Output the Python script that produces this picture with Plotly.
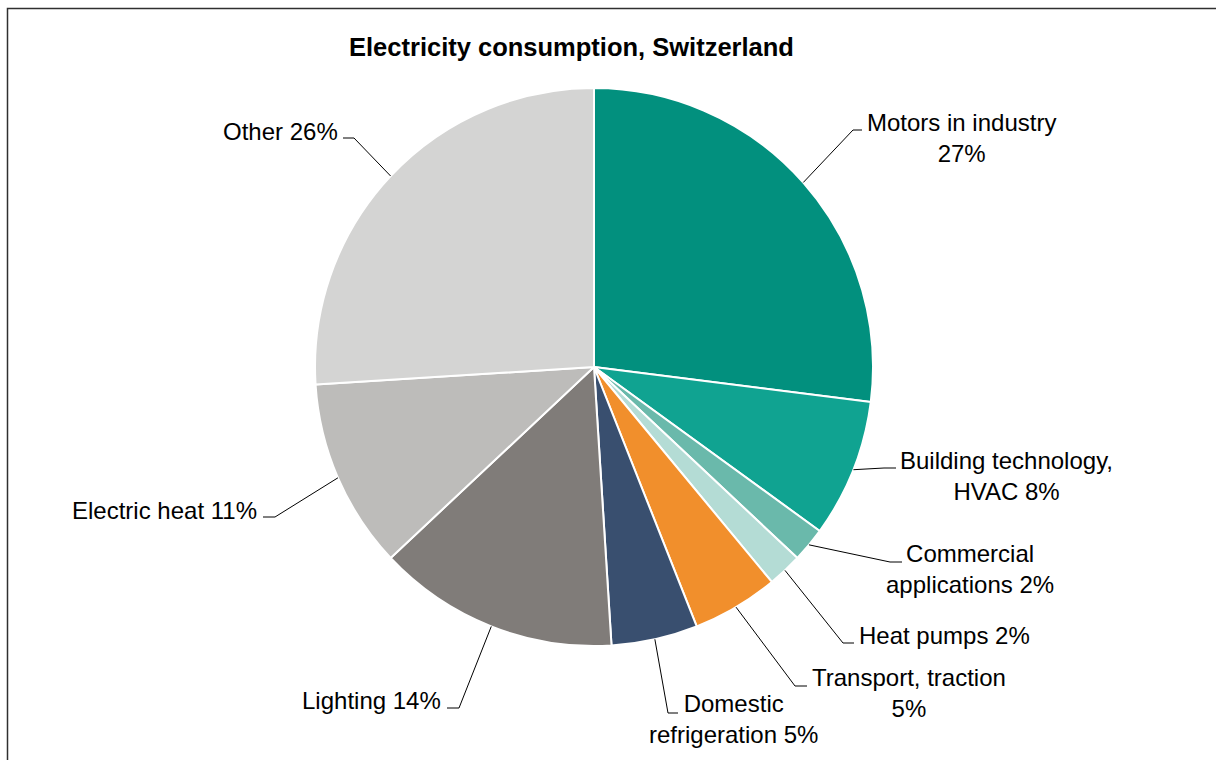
import math
import plotly.graph_objects as go

# ---- data ----
categories = ["Motors in industry", "Building technology, HVAC", "Commercial applications",
              "Heat pumps", "Transport, traction", "Domestic refrigeration",
              "Lighting", "Electric heat", "Other"]
shares = [27, 8, 2, 2, 5, 5, 14, 11, 26]
label_texts = ["Motors in industry<br>27%", "Building technology,<br>HVAC 8%",
               "Commercial<br>applications 2%", "Heat pumps 2%",
               "Transport, traction<br>5%", "Domestic<br>refrigeration 5%",
               "Lighting 14%", "Electric heat 11%", "Other 26%"]
colors = ["#02907E", "#10A391", "#6AB9AB", "#B4DCD5", "#F18F2C",
          "#394F6F", "#807C79", "#BDBCBA", "#D4D4D3"]

# ---- layout (pixels) ----
W, H = 1216, 760
CX, CY, R = 594, 367, 279
# label layout: (elbow x, elbow y, end x, text x, text y, xanchor)
label_layout = [
    (853, 130, 862, 962, 138, "center"),
    (884, 468, 896, 1006, 476, "center"),
    (890, 562, 902, 970, 569, "center"),
    (843, 643, 854, 857, 635, "left"),
    (795, 686, 807, 909, 693, "center"),
    (668, 713, 678, 733, 719, "center"),
    (459, 708, 447, 443, 700, "right"),
    (275, 517, 263, 259, 510, "right"),
    (354, 138, 343, 340, 131, "right"),
]

def px(x):
    return x / W

def py(y):
    return 1 - y / H

fig = go.Figure(go.Pie(
    labels=categories, values=shares, sort=False, direction="clockwise",
    rotation=0, marker=dict(colors=colors, line=dict(color="white", width=2)),
    textinfo="none", hoverinfo="label+percent", showlegend=False,
    domain=dict(x=[px(CX - R), px(CX + R)], y=[py(CY + R), py(CY - R)]),
))

total = sum(shares)
cum = 0
shapes = []
annotations = []
for val, txt, lay in zip(shares, label_texts, label_layout):
    mid = (cum + val / 2) / total * 2 * math.pi
    cum += val
    sx = CX + R * math.sin(mid)
    sy = CY - R * math.cos(mid)
    ex, ey, endx, tx, ty, xa = lay
    shapes.append(dict(type="path", xref="paper", yref="paper",
                       path=f"M {px(sx)} {py(sy)} L {px(ex)} {py(ey)} L {px(endx)} {py(ey)}",
                       line=dict(color="black", width=1)))
    annotations.append(dict(x=px(tx), y=py(ty), xref="paper", yref="paper",
                            text=txt, showarrow=False, xanchor=xa, yanchor="middle",
                            align="center",
                            font=dict(family="Arial, Liberation Sans", size=24, color="black")))

# chart frame (cropped at right and bottom)
shapes.append(dict(type="path", xref="paper", yref="paper",
                   path=f"M {px(7.5)} {py(800)} L {px(7.5)} {py(8.5)} L {px(1260)} {py(8.5)}",
                   line=dict(color="#303030", width=1.5)))

fig.update_layout(
    width=W, height=H, margin=dict(l=0, r=0, t=0, b=0),
    paper_bgcolor="white", plot_bgcolor="white",
    title=dict(text="<b>Electricity consumption, Switzerland</b>", x=px(571.5), y=py(47),
               xanchor="center", yanchor="middle",
               font=dict(family="Arial, Liberation Sans", size=25.5, color="black")),
    shapes=shapes, annotations=annotations,
)

fig.write_html("out.html", config={"displayModeBar": False},
               post_script="document.body.style.margin='0';")
